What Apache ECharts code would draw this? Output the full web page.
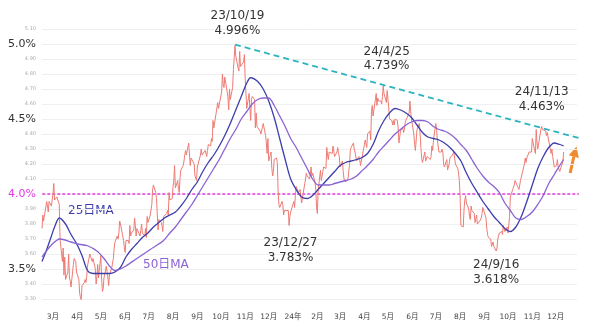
<!DOCTYPE html>
<html><head><meta charset="utf-8">
<script src="https://cdn.jsdelivr.net/npm/echarts@6/dist/echarts.min.js"></script>
<style>html,body{margin:0;padding:0;background:#fff}#c{width:600px;height:330px}</style>
</head><body><div id="c"></div>
<script>
// ---- data (US 10Y yield, %) ----
const holidays = ['2023-02-20','2023-05-29','2023-06-19','2023-07-04','2023-09-04','2023-10-09','2023-11-23','2023-12-25',
  '2024-01-01','2024-01-15','2024-02-19','2024-03-29','2024-05-27','2024-06-19','2024-07-04','2024-09-02','2024-10-14','2024-11-11','2024-11-28','2024-12-25'];
const startDay2023Feb = 15;
// daily closes per month, Feb..Dec 2023
const daily2023 = [
  [3.77,3.86,3.82,3.95,3.92,3.88,3.95,3.92,3.92],
  [4.00,4.07,3.96,3.98,3.97,3.99,3.93,3.70,3.55,3.64,3.46,3.58,3.43,3.48,3.60,3.44,3.42,3.38,3.53,3.57,3.57,3.55,3.48],
  [3.43,3.34,3.31,3.29,3.39,3.41,3.43,3.41,3.45,3.52,3.60,3.59,3.59,3.55,3.57,3.50,3.40,3.45,3.53,3.44],
  [3.59,3.44,3.35,3.37,3.44,3.52,3.52,3.44,3.39,3.46,3.51,3.54,3.57,3.64,3.68,3.72,3.70,3.74,3.82,3.80,3.69,3.64],
  [3.61,3.69,3.69,3.67,3.79,3.72,3.74,3.76,3.84,3.79,3.72,3.77,3.72,3.72,3.80,3.74,3.72,3.77,3.71,3.85,3.81],
  [3.86,3.93,4.03,4.06,4.01,3.97,3.86,3.76,3.83,3.81,3.79,3.75,3.85,3.84,3.87,3.89,3.86,4.01,3.96,3.97],
  [4.05,4.08,4.19,4.04,4.09,4.03,4.01,4.11,4.16,4.19,4.22,4.26,4.29,4.26,4.34,4.33,4.19,4.24,4.25,4.20,4.12,4.12,4.09],
  [4.18,4.26,4.30,4.26,4.26,4.29,4.28,4.25,4.29,4.33,4.32,4.37,4.35,4.49,4.44,4.54,4.55,4.61,4.57,4.57],
  [4.68,4.80,4.73,4.71,4.78,4.65,4.56,4.70,4.63,4.71,4.83,4.91,4.99,4.92,4.84,4.82,4.95,4.85,4.84,4.88,4.93],
  [4.77,4.67,4.57,4.67,4.57,4.49,4.63,4.65,4.63,4.44,4.54,4.45,4.44,4.42,4.40,4.41,4.47,4.39,4.34,4.27,4.37],
  [4.22,4.28,4.17,4.12,4.15,4.23,4.24,4.21,4.02,3.93,3.91,3.95,3.93,3.86,3.89,3.90,3.89,3.79,3.85,3.88]
];
// daily closes per month, Jan..Dec 2024
const daily2024 = [
  [3.95,3.91,3.99,4.05,4.01,4.02,4.03,3.98,3.94,4.07,4.10,4.14,4.12,4.10,4.13,4.18,4.12,4.14,4.08,4.03,3.91],
  [3.87,4.02,4.16,4.09,4.10,4.15,4.18,4.17,4.31,4.26,4.23,4.28,4.27,4.32,4.33,4.25,4.28,4.31,4.27,4.25],
  [4.18,4.22,4.15,4.10,4.09,4.08,4.10,4.15,4.19,4.29,4.31,4.34,4.30,4.28,4.27,4.22,4.25,4.23,4.19,4.20],
  [4.33,4.36,4.35,4.31,4.40,4.42,4.36,4.55,4.59,4.52,4.63,4.67,4.59,4.64,4.62,4.62,4.60,4.65,4.72,4.67,4.61,4.69],
  [4.63,4.58,4.50,4.49,4.46,4.49,4.46,4.50,4.49,4.44,4.34,4.38,4.42,4.44,4.41,4.43,4.48,4.47,4.54,4.62,4.55,4.50],
  [4.40,4.33,4.29,4.29,4.43,4.47,4.40,4.31,4.24,4.21,4.28,4.22,4.25,4.26,4.23,4.25,4.32,4.29,4.36],
  [4.47,4.43,4.36,4.28,4.28,4.30,4.28,4.20,4.18,4.23,4.16,4.15,4.20,4.24,4.26,4.25,4.28,4.24,4.20,4.17,4.14,4.09],
  [3.98,3.79,3.78,3.90,3.96,3.99,3.94,3.90,3.85,3.83,3.92,3.89,3.87,3.81,3.80,3.86,3.80,3.82,3.83,3.84,3.87,3.91],
  [3.84,3.77,3.73,3.71,3.70,3.65,3.65,3.68,3.65,3.62,3.64,3.70,3.71,3.74,3.75,3.73,3.79,3.80,3.75,3.78],
  [3.74,3.79,3.85,3.98,4.03,4.04,4.06,4.09,4.10,4.03,4.02,4.09,4.08,4.18,4.20,4.24,4.21,4.24,4.28,4.27,4.29,4.28],
  [4.37,4.29,4.27,4.43,4.34,4.30,4.43,4.45,4.43,4.43,4.42,4.39,4.41,4.42,4.41,4.27,4.30,4.25,4.18],
  [4.19,4.23,4.18,4.18,4.15,4.20,4.22,4.28]
];
// 25-day moving average (read weekly)
const ma25Dates = ['2023-02-15','2023-02-21','2023-02-27','2023-03-03','2023-03-09','2023-03-17','2023-03-24','2023-03-31','2023-04-07','2023-04-14','2023-04-21','2023-04-28','2023-05-05','2023-05-12','2023-05-19','2023-05-26','2023-06-02','2023-06-09','2023-06-16','2023-06-23','2023-06-30','2023-07-07','2023-07-14','2023-07-21','2023-07-28','2023-08-04','2023-08-11','2023-08-18','2023-08-25','2023-09-01','2023-09-08','2023-09-15','2023-09-22','2023-09-29','2023-10-06','2023-10-13','2023-10-20','2023-10-27','2023-11-03','2023-11-08','2023-11-17','2023-11-24','2023-12-01','2023-12-08','2023-12-15','2023-12-22','2023-12-29','2024-01-05','2024-01-12','2024-01-19','2024-01-26','2024-02-02','2024-02-09','2024-02-16','2024-02-23','2024-03-01','2024-03-08','2024-03-15','2024-03-22','2024-03-28','2024-04-05','2024-04-12','2024-04-19','2024-04-26','2024-05-03','2024-05-10','2024-05-17','2024-05-24','2024-05-31','2024-06-07','2024-06-14','2024-06-21','2024-06-28','2024-07-05','2024-07-12','2024-07-19','2024-07-26','2024-08-02','2024-08-09','2024-08-16','2024-08-23','2024-08-30','2024-09-06','2024-09-13','2024-09-20','2024-09-27','2024-10-04','2024-10-11','2024-10-18','2024-10-25','2024-11-01','2024-11-08','2024-11-15','2024-11-22','2024-11-29','2024-12-06','2024-12-11'];
const ma25Values = [3.55,3.63,3.72,3.78,3.84,3.80,3.73,3.67,3.59,3.49,3.47,3.47,3.47,3.47,3.48,3.51,3.58,3.63,3.67,3.71,3.74,3.78,3.81,3.84,3.86,3.88,3.92,3.97,4.03,4.08,4.15,4.21,4.26,4.32,4.39,4.47,4.56,4.65,4.74,4.775,4.75,4.70,4.62,4.51,4.37,4.23,4.10,4.03,3.98,3.97,3.99,4.03,4.07,4.11,4.15,4.19,4.21,4.22,4.23,4.24,4.27,4.33,4.42,4.49,4.54,4.57,4.56,4.54,4.51,4.46,4.41,4.38,4.37,4.36,4.34,4.31,4.27,4.22,4.14,4.07,4.01,3.95,3.90,3.85,3.81,3.77,3.75,3.78,3.85,3.95,4.06,4.17,4.25,4.31,4.34,4.33,4.32];
// 50-day moving average (read weekly)
const ma50Dates = ['2023-02-15','2023-02-27','2023-03-10','2023-03-24','2023-04-03','2023-04-14','2023-04-26','2023-05-05','2023-05-12','2023-05-19','2023-05-26','2023-06-02','2023-06-16','2023-07-03','2023-07-20','2023-07-28','2023-08-04','2023-08-11','2023-08-18','2023-08-25','2023-09-01','2023-09-08','2023-09-15','2023-09-22','2023-09-29','2023-10-06','2023-10-13','2023-10-20','2023-10-27','2023-11-03','2023-11-10','2023-11-17','2023-11-24','2023-12-01','2023-12-08','2023-12-15','2023-12-22','2023-12-29','2024-01-05','2024-01-12','2024-01-19','2024-01-26','2024-02-02','2024-02-09','2024-02-16','2024-02-23','2024-03-01','2024-03-08','2024-03-15','2024-03-22','2024-03-28','2024-04-05','2024-04-12','2024-04-19','2024-04-26','2024-05-03','2024-05-10','2024-05-17','2024-05-24','2024-05-31','2024-06-07','2024-06-14','2024-06-21','2024-06-28','2024-07-05','2024-07-12','2024-07-19','2024-07-26','2024-08-02','2024-08-09','2024-08-16','2024-08-23','2024-08-30','2024-09-06','2024-09-13','2024-09-20','2024-09-27','2024-10-04','2024-10-11','2024-10-18','2024-10-25','2024-11-01','2024-11-08','2024-11-15','2024-11-22','2024-11-29','2024-12-06','2024-12-11'];
const ma50Values = [3.58,3.66,3.70,3.68,3.665,3.655,3.62,3.57,3.52,3.49,3.50,3.52,3.57,3.63,3.69,3.74,3.78,3.83,3.88,3.93,3.99,4.05,4.11,4.17,4.23,4.30,4.37,4.43,4.50,4.55,4.60,4.63,4.64,4.64,4.59,4.52,4.45,4.37,4.31,4.24,4.17,4.10,4.06,4.06,4.06,4.07,4.08,4.09,4.10,4.12,4.15,4.19,4.23,4.28,4.32,4.36,4.40,4.43,4.46,4.48,4.49,4.49,4.48,4.45,4.43,4.42,4.40,4.37,4.33,4.29,4.23,4.17,4.12,4.08,4.05,4.01,3.94,3.89,3.84,3.83,3.85,3.88,3.93,3.99,4.07,4.13,4.19,4.23];
// resistance trend line (from 23/10/19 high, extended) and 4.0% reference line
const trendDates = ['2023-10-19','2025-01-26'];
const trendValues = [4.996, 4.335];
const refDates = ['2023-02-09','2025-01-26'];
const refValues = [4.0, 4.0];
// annotated points
const annotDates = ['2023-10-19','2024-04-25','2024-11-13','2023-12-27','2024-09-16'];
const annotValues = [4.99, 4.72, 4.45, 3.79, 3.62];
const annotTexts = ['23/10/19\n4.996%','24/4/25\n4.739%','24/11/13\n4.463%','23/12/27\n3.783%','24/9/16\n3.618%'];
// ---- layout ----
const annotOffsets = [[2.5,-22],[3.4,-27.2],[0,-27],[1.4,24.8],[0,21.5]];

function pad(n){return (n<10?'0':'')+n;}
function buildDaily(year, firstMonth, firstDay, months){
  const out=[];
  months.forEach(function(vals,i){
    const m = firstMonth + i;
    let d = (i===0) ? firstDay : 1;
    let k = 0;
    while (k < vals.length && d <= 31){
      const dt = new Date(year, m-1, d);
      const key = year+'-'+pad(m)+'-'+pad(d);
      const wd = dt.getDay();
      if (wd!==0 && wd!==6 && holidays.indexOf(key)<0){ out.push([key, vals[k]]); k++; }
      d++;
    }
  });
  return out;
}
const dailyData = buildDaily(2023, 2, startDay2023Feb, daily2023).concat(buildDaily(2024, 1, 1, daily2024));
const pairs = (ds, vs) => ds.map((d,i)=>[d, vs[i]]);

const FONT = '"DejaVu Sans","Noto Sans CJK JP",sans-serif';
const chart = echarts.init(document.getElementById('c'), null, {renderer:'canvas'});
chart.setOption({
  animation:false,
  backgroundColor:'#ffffff',
  grid:{left:42, right:23, top:29, bottom:31, containLabel:false},
  xAxis:{
    type:'time', min:'2023-02-15', max:'2024-12-28',
    splitNumber:23, minInterval:28*864e5, maxInterval:31*864e5,
    axisLine:{show:false}, axisTick:{show:false}, splitLine:{show:false},
    axisLabel:{
      fontSize:7.5, color:'#444', fontFamily:FONT, margin:14, hideOverlap:false,
      showMinLabel:false, showMaxLabel:false,
      formatter:function(v){
        const d = new Date(v);
        if (d.getDate()!==1) return '';
        const m = d.getMonth()+1;
        return m===1 ? (String(d.getFullYear()).slice(2)+'年') : (m+'月');
      }
    }
  },
  yAxis:{
    type:'value', min:3.3, max:5.1, interval:0.1,
    axisLine:{show:false}, axisTick:{show:false},
    splitLine:{lineStyle:{color:'#efefef', width:1}},
    axisLabel:{
      margin:6,
      formatter:function(v){
        const r = Math.round(v*100)/100;
        if (Math.abs(r*2 - Math.round(r*2)) < 1e-6){
          const s = r.toFixed(1)+'%';
          return Math.abs(r-4)<1e-6 ? '{mag|'+s+'}' : '{big|'+s+'}';
        }
        return '{small|'+r.toFixed(2)+'}';
      },
      rich:{
        big:{fontSize:11, color:'#333', fontFamily:FONT},
        mag:{fontSize:11, color:'#e03ee0', fontFamily:FONT},
        small:{fontSize:5, color:'#aaa', fontFamily:FONT}
      }
    }
  },
  series:[
    {
      name:'daily', type:'line', data:dailyData, symbol:'none',
      lineStyle:{color:'#ee7b74', width:1}, z:2,
      markPoint:{
        symbol:'circle', symbolSize:1, itemStyle:{color:'rgba(0,0,0,0)'},
        label:{show:true, position:'inside', color:'#333', fontSize:12, lineHeight:14.5, fontFamily:FONT, align:'center',
          formatter:function(p){return p.name;}},
        data: annotDates.map(function(d,i){return {name:annotTexts[i], coord:[d, annotValues[i]], label:{offset:annotOffsets[i]}};})
      }
    },
    {name:'25日MA', type:'line', data:pairs(ma25Dates, ma25Values), symbol:'none', smooth:0.3,
      lineStyle:{color:'#3d3dab', width:1.3}, z:3},
    {name:'50日MA', type:'line', data:pairs(ma50Dates, ma50Values), symbol:'none', smooth:0.3,
      lineStyle:{color:'#8a63d3', width:1.3}, z:3},
    {name:'trend', type:'line', data:pairs(trendDates, trendValues), symbol:'none', clip:false,
      lineStyle:{color:'#2bb4c0', width:1.8, type:[6,4]}, z:4},
    {name:'ref', type:'line', data:pairs(refDates, refValues), symbol:'none', clip:false,
      lineStyle:{color:'#e03ee0', width:1.4, type:[3,2]}, z:1}
  ],
  graphic:[
    {type:'text', x:68, y:211, style:{text:'25日MA', fill:'#3d3dab', font:'12px '+FONT, align:'left', verticalAlign:'middle'}},
    {type:'text', x:143, y:265, style:{text:'50日MA', fill:'#8a63d3', font:'12px '+FONT, align:'left', verticalAlign:'middle'}},
    {type:'line', shape:{x1:570.2, y1:173, x2:573.8, y2:156.6}, style:{stroke:'#ef8a2e', lineWidth:3}},
    {type:'polygon', shape:{points:[[576.5,146.5],[578.8,158],[568.8,155.3]]}, style:{fill:'#ef8a2e'}}
  ]
});
</script>
</body></html>
